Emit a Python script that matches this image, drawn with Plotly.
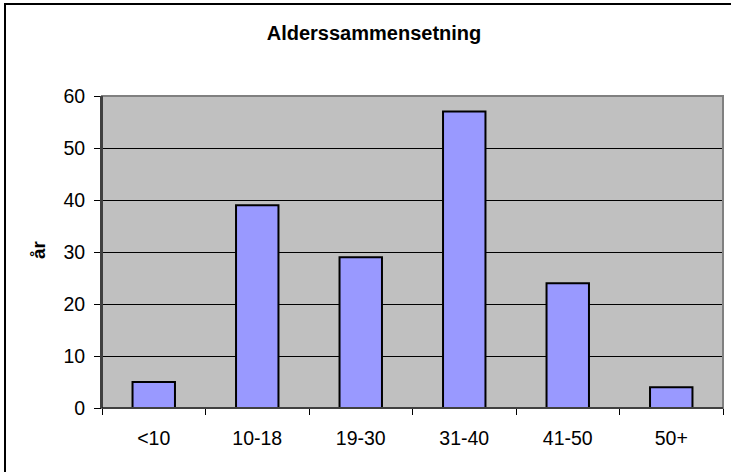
import plotly.graph_objects as go

categories = ["<10", "10-18", "19-30", "31-40", "41-50", "50+"]
values = [5, 39, 29, 57, 24, 4]
title_text = "Alderssammensetning"
y_title = "år"

W, H = 731, 472
L, R, T, B = 102, 8, 96, 64
pw, ph = W - L - R, H - T - B

def px2x(px):
    return (px - L) / pw

def py2y(py):
    return (H - B - py) / ph

fig = go.Figure(go.Bar(
    x=categories, y=values,
    marker=dict(color="#9999FF", line=dict(color="black", width=2)),
))

fig.update_layout(
    width=W, height=H,
    margin=dict(l=L, r=R, t=T, b=B),
    paper_bgcolor="white", plot_bgcolor="#C0C0C0",
    bargap=0.59,
    showlegend=False,
    font=dict(family="Liberation Sans, Arial", size=19.5, color="black"),
    title=dict(text="<b>" + title_text + "</b>", x=374 / W, xanchor="center",
               y=1 - 33 / H, yanchor="middle", font=dict(size=20)),
    xaxis=dict(type="category", tickson="boundaries", ticks="outside", ticklen=6,
               tickcolor="black", showgrid=False, showline=True, linecolor="black",
               linewidth=1, mirror=False, zeroline=False, ticklabelstandoff=13),
    yaxis=dict(range=[0, 60], dtick=10, ticks="outside", ticklen=6, tickcolor="black",
               showgrid=True, gridcolor="black", gridwidth=1, zeroline=False,
               showline=True, linecolor="#404040", linewidth=2,
               ticklabelstandoff=5),
    annotations=[
        dict(text="<b>" + y_title + "</b>", xref="paper", yref="paper",
             x=px2x(38), y=py2y(250), xanchor="center", yanchor="middle",
             textangle=-90, showarrow=False, font=dict(size=19)),
    ],
    shapes=[
        dict(type="rect", xref="paper", yref="paper", x0=0, x1=1, y0=0, y1=1,
             line=dict(color="#808080", width=2), fillcolor="rgba(0,0,0,0)", layer="above"),
        dict(type="line", xref="paper", yref="paper", x0=0, x1=0, y0=0, y1=1,
             line=dict(color="#404040", width=2), layer="above"),
        dict(type="line", xref="paper", yref="paper", x0=0, x1=1, y0=0, y1=0,
             line=dict(color="black", width=1), layer="above"),
        dict(type="rect", xref="paper", yref="paper",
             x0=px2x(5), x1=px2x(760), y0=py2y(500), y1=py2y(4),
             line=dict(color="black", width=2), fillcolor="rgba(0,0,0,0)"),
    ],
)

fig.write_html("out.html", config={"displayModeBar": False},
               post_script="document.body.style.margin='0';document.body.style.overflow='hidden';")
